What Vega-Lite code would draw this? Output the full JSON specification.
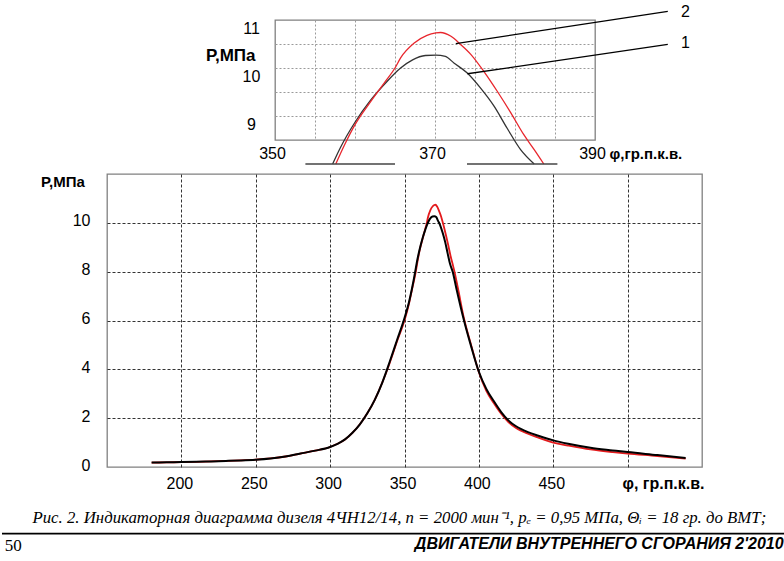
{
  "$schema": "https://vega.github.io/schema/vega-lite/v6.json",
  "background": "white",
  "padding": {"left": 0, "top": 3, "right": 0, "bottom": 0},
  "datasets": {
    "curves": [
      {"phi": 180, "p": 0.18, "curve": "1"}, {"phi": 190, "p": 0.19, "curve": "1"}, {"phi": 200, "p": 0.2, "curve": "1"},
      {"phi": 210, "p": 0.21, "curve": "1"}, {"phi": 220, "p": 0.23, "curve": "1"}, {"phi": 230, "p": 0.25, "curve": "1"},
      {"phi": 240, "p": 0.27, "curve": "1"}, {"phi": 250, "p": 0.3, "curve": "1"}, {"phi": 260, "p": 0.35, "curve": "1"},
      {"phi": 270, "p": 0.43, "curve": "1"}, {"phi": 280, "p": 0.55, "curve": "1"}, {"phi": 290, "p": 0.67, "curve": "1"},
      {"phi": 300, "p": 0.82, "curve": "1"}, {"phi": 305, "p": 0.95, "curve": "1"}, {"phi": 310, "p": 1.13, "curve": "1"},
      {"phi": 315, "p": 1.4, "curve": "1"}, {"phi": 320, "p": 1.75, "curve": "1"}, {"phi": 325, "p": 2.2, "curve": "1"},
      {"phi": 330, "p": 2.75, "curve": "1"}, {"phi": 335, "p": 3.45, "curve": "1"}, {"phi": 340, "p": 4.3, "curve": "1"},
      {"phi": 345, "p": 5.2, "curve": "1"}, {"phi": 350, "p": 6.1, "curve": "1"}, {"phi": 353, "p": 6.75, "curve": "1"},
      {"phi": 355, "p": 7.3, "curve": "1"}, {"phi": 357.2, "p": 8.0, "curve": "1"}, {"phi": 358.2, "p": 8.35, "curve": "1"},
      {"phi": 360, "p": 8.87, "curve": "1"}, {"phi": 362, "p": 9.34, "curve": "1"}, {"phi": 364, "p": 9.72, "curve": "1"},
      {"phi": 365.7, "p": 10.0, "curve": "1"}, {"phi": 367.2, "p": 10.17, "curve": "1"}, {"phi": 368.8, "p": 10.26, "curve": "1"},
      {"phi": 370.1, "p": 10.27, "curve": "1"}, {"phi": 371.3, "p": 10.24, "curve": "1"}, {"phi": 372.4, "p": 10.1, "curve": "1"},
      {"phi": 374, "p": 9.9, "curve": "1"}, {"phi": 375.7, "p": 9.58, "curve": "1"}, {"phi": 377.4, "p": 9.2, "curve": "1"},
      {"phi": 379, "p": 8.75, "curve": "1"}, {"phi": 380.7, "p": 8.3, "curve": "1"}, {"phi": 382.4, "p": 8.0, "curve": "1"},
      {"phi": 385, "p": 7.28, "curve": "1"}, {"phi": 390, "p": 6.0, "curve": "1"}, {"phi": 395, "p": 4.9, "curve": "1"},
      {"phi": 400, "p": 3.9, "curve": "1"}, {"phi": 405, "p": 3.2, "curve": "1"}, {"phi": 410, "p": 2.7, "curve": "1"},
      {"phi": 415, "p": 2.25, "curve": "1"}, {"phi": 420, "p": 1.9, "curve": "1"}, {"phi": 425, "p": 1.67, "curve": "1"},
      {"phi": 433, "p": 1.43, "curve": "1"}, {"phi": 440, "p": 1.28, "curve": "1"}, {"phi": 450, "p": 1.09, "curve": "1"},
      {"phi": 460, "p": 0.95, "curve": "1"}, {"phi": 475, "p": 0.79, "curve": "1"}, {"phi": 490, "p": 0.68, "curve": "1"},
      {"phi": 500, "p": 0.61, "curve": "1"}, {"phi": 520, "p": 0.49, "curve": "1"}, {"phi": 539, "p": 0.37, "curve": "1"},

      {"phi": 180, "p": 0.18, "curve": "2"}, {"phi": 190, "p": 0.19, "curve": "2"}, {"phi": 200, "p": 0.2, "curve": "2"},
      {"phi": 210, "p": 0.21, "curve": "2"}, {"phi": 220, "p": 0.23, "curve": "2"}, {"phi": 230, "p": 0.25, "curve": "2"},
      {"phi": 240, "p": 0.27, "curve": "2"}, {"phi": 250, "p": 0.3, "curve": "2"}, {"phi": 260, "p": 0.35, "curve": "2"},
      {"phi": 270, "p": 0.43, "curve": "2"}, {"phi": 280, "p": 0.55, "curve": "2"}, {"phi": 290, "p": 0.67, "curve": "2"},
      {"phi": 300, "p": 0.82, "curve": "2"}, {"phi": 305, "p": 0.95, "curve": "2"}, {"phi": 310, "p": 1.13, "curve": "2"},
      {"phi": 315, "p": 1.4, "curve": "2"}, {"phi": 320, "p": 1.75, "curve": "2"}, {"phi": 325, "p": 2.2, "curve": "2"},
      {"phi": 330, "p": 2.75, "curve": "2"}, {"phi": 335, "p": 3.45, "curve": "2"}, {"phi": 340, "p": 4.25, "curve": "2"},
      {"phi": 345, "p": 5.15, "curve": "2"}, {"phi": 350, "p": 6.0, "curve": "2"}, {"phi": 353, "p": 6.68, "curve": "2"},
      {"phi": 355, "p": 7.25, "curve": "2"}, {"phi": 357.6, "p": 8.0, "curve": "2"}, {"phi": 358.7, "p": 8.4, "curve": "2"},
      {"phi": 360, "p": 8.82, "curve": "2"}, {"phi": 362, "p": 9.31, "curve": "2"}, {"phi": 363.8, "p": 9.72, "curve": "2"},
      {"phi": 365, "p": 10.0, "curve": "2"}, {"phi": 365.7, "p": 10.21, "curve": "2"}, {"phi": 367.4, "p": 10.52, "curve": "2"},
      {"phi": 369, "p": 10.68, "curve": "2"}, {"phi": 370.1, "p": 10.73, "curve": "2"}, {"phi": 370.7, "p": 10.74, "curve": "2"},
      {"phi": 372, "p": 10.66, "curve": "2"}, {"phi": 373.2, "p": 10.49, "curve": "2"}, {"phi": 374.5, "p": 10.28, "curve": "2"},
      {"phi": 376.1, "p": 9.93, "curve": "2"}, {"phi": 377.8, "p": 9.51, "curve": "2"}, {"phi": 379.5, "p": 9.06, "curve": "2"},
      {"phi": 381.1, "p": 8.61, "curve": "2"}, {"phi": 382.4, "p": 8.3, "curve": "2"}, {"phi": 383.6, "p": 8.0, "curve": "2"},
      {"phi": 386, "p": 7.3, "curve": "2"}, {"phi": 390, "p": 6.08, "curve": "2"}, {"phi": 395, "p": 4.95, "curve": "2"},
      {"phi": 400, "p": 3.88, "curve": "2"}, {"phi": 405, "p": 3.12, "curve": "2"}, {"phi": 410, "p": 2.62, "curve": "2"},
      {"phi": 415, "p": 2.18, "curve": "2"}, {"phi": 420, "p": 1.83, "curve": "2"}, {"phi": 425, "p": 1.6, "curve": "2"},
      {"phi": 433, "p": 1.36, "curve": "2"}, {"phi": 440, "p": 1.2, "curve": "2"}, {"phi": 450, "p": 1.0, "curve": "2"},
      {"phi": 460, "p": 0.88, "curve": "2"}, {"phi": 475, "p": 0.72, "curve": "2"}, {"phi": 490, "p": 0.61, "curve": "2"},
      {"phi": 500, "p": 0.55, "curve": "2"}, {"phi": 520, "p": 0.45, "curve": "2"}, {"phi": 539, "p": 0.34, "curve": "2"}
    ]
  },
  "vconcat": [
    {
      "hconcat": [
        {
          "width": 97,
          "height": 10,
          "data": {"values": []},
          "mark": "point",
          "view": {"stroke": null}
        },
        {
          "width": 320,
          "height": 120,
          "resolve": {"axis": {"x": "independent", "y": "independent"}},
          "layer": [
            {
              "data": {"name": "curves"},
              "transform": [{"filter": "datum.curve == '1' && datum.p >= 8"}],
              "mark": {"type": "line", "color": "#333333", "strokeWidth": 1.3, "interpolate": "monotone"},
              "encoding": {
                "x": {
                  "field": "phi",
                  "type": "quantitative",
                  "scale": {"domain": [350, 390], "nice": false, "zero": false},
                  "axis": {
                    "orient": "bottom",
                    "values": [355, 360, 365, 370, 375, 380, 385],
                    "grid": true,
                    "gridColor": "#9a9a9a",
                    "gridDash": [2, 2],
                    "labels": false,
                    "title": null
                  }
                },
                "y": {
                  "field": "p",
                  "type": "quantitative",
                  "scale": {"domain": [8.5, 11], "nice": false, "zero": false},
                  "axis": {
                    "orient": "left",
                    "values": [9, 9.5, 10, 10.5],
                    "grid": true,
                    "gridColor": "#9a9a9a",
                    "gridDash": [2, 2],
                    "labels": false,
                    "title": null
                  }
                }
              }
            },
            {
              "data": {"name": "curves"},
              "transform": [{"filter": "datum.curve == '2' && datum.p >= 8"}],
              "mark": {"type": "line", "color": "#e8262d", "strokeWidth": 1.3, "interpolate": "monotone"},
              "encoding": {
                "x": {
                  "field": "phi",
                  "type": "quantitative",
                  "axis": {
                    "orient": "bottom",
                    "values": [350, 370, 390],
                    "grid": false,
                    "labelPadding": 13,
                    "labelBaseline": "middle",
                    "labelOffset": -3,
                    "title": "φ,гр.п.к.в.",
                    "titleX": 334,
                    "titleY": 13,
                    "titleAlign": "left",
                    "titleBaseline": "middle",
                    "titleFontSize": 15
                  }
                },
                "y": {
                  "field": "p",
                  "type": "quantitative",
                  "axis": {
                    "orient": "left",
                    "values": [9, 10, 11],
                    "grid": false,
                    "labelAlign": "center",
                    "labelPadding": 24,
                    "labelOffset": 8,
                    "title": "Р,МПа",
                    "titleAngle": 0,
                    "titleX": -20,
                    "titleY": 35.5,
                    "titleAlign": "right",
                    "titleBaseline": "middle",
                    "titleFontSize": 17
                  }
                }
              }
            },
            {
              "data": {"values": [{"k": 1}]},
              "mark": {"type": "rule", "color": "#444444", "strokeWidth": 1.3},
              "encoding": {
                "x": {"datum": 353.8, "type": "quantitative", "axis": null},
                "x2": {"datum": 365},
                "y": {"datum": 8, "type": "quantitative", "axis": null}
              }
            },
            {
              "data": {"values": [{"k": 1}]},
              "mark": {"type": "rule", "color": "#444444", "strokeWidth": 1.3},
              "encoding": {
                "x": {"datum": 374, "type": "quantitative", "axis": null},
                "x2": {"datum": 385.3},
                "y": {"datum": 8, "type": "quantitative", "axis": null}
              }
            },
            {
              "data": {"values": [{"k": 1}]},
              "mark": {"type": "rule", "color": "#000000", "strokeWidth": 1.3},
              "encoding": {
                "x": {"datum": 372.6, "type": "quantitative", "axis": null},
                "x2": {"datum": 399.1},
                "y": {"datum": 10.51, "type": "quantitative", "axis": null},
                "y2": {"datum": 11.18}
              }
            },
            {
              "data": {"values": [{"k": 1}]},
              "mark": {"type": "rule", "color": "#000000", "strokeWidth": 1.3},
              "encoding": {
                "x": {"datum": 374.05, "type": "quantitative", "axis": null},
                "x2": {"datum": 399.1},
                "y": {"datum": 9.88, "type": "quantitative", "axis": null},
                "y2": {"datum": 10.49}
              }
            },
            {
              "data": {"values": [{"k": 1}]},
              "mark": {"type": "text", "text": "2", "fontSize": 16, "align": "center", "baseline": "middle", "color": "#000"},
              "encoding": {
                "x": {"datum": 401.3, "type": "quantitative", "axis": null},
                "y": {"datum": 11.165, "type": "quantitative", "axis": null}
              }
            },
            {
              "data": {"values": [{"k": 1}]},
              "mark": {"type": "text", "text": "1", "fontSize": 16, "align": "center", "baseline": "middle", "color": "#000"},
              "encoding": {
                "x": {"datum": 401.3, "type": "quantitative", "axis": null},
                "y": {"datum": 10.52, "type": "quantitative", "axis": null}
              }
            }
          ]
        }
      ],
      "spacing": 0,
      "align": "each"
    },
    {
      "width": 595,
      "height": 293,
      "layer": [
        {
          "data": {"name": "curves"},
          "transform": [{"filter": "datum.curve == '2'"}],
          "mark": {"type": "line", "color": "#e31a1c", "strokeWidth": 1.8, "interpolate": "monotone"},
          "encoding": {
            "x": {
              "field": "phi",
              "type": "quantitative",
              "scale": {"domain": [150, 550], "nice": false, "zero": false},
              "axis": {
                "values": [200, 250, 300, 350, 400, 450, 500],
                "grid": true,
                "gridColor": "#333333",
                "gridDash": [3, 2],
                "labelExpr": "datum.value == 500 ? '' : datum.label",
                "labelPadding": 16,
                "labelBaseline": "middle",
                "labelOffset": -2,
                "title": "φ, гр.п.к.в.",
                "titleX": 597,
                "titleY": 16,
                "titleAlign": "right",
                "titleBaseline": "middle",
                "titleFontSize": 16
              }
            },
            "y": {
              "field": "p",
              "type": "quantitative",
              "scale": {"domain": [0, 12], "nice": false},
              "axis": {
                "values": [0, 2, 4, 6, 8, 10],
                "grid": true,
                "gridColor": "#333333",
                "gridDash": [3, 2],
                "gridOpacity": {"condition": {"test": "datum.value == 0", "value": 0}, "value": 1},
                "labelPadding": 17,
                "labelOffset": -2,
                "title": "Р,МПа",
                "titleAngle": 0,
                "titleX": -22.7,
                "titleY": 7.4,
                "titleAlign": "right",
                "titleBaseline": "middle",
                "titleFontSize": 15
              }
            }
          }
        },
        {
          "data": {"name": "curves"},
          "transform": [{"filter": "datum.curve == '1'"}],
          "mark": {"type": "line", "color": "#000000", "strokeWidth": 2, "interpolate": "monotone"},
          "encoding": {
            "x": {"field": "phi", "type": "quantitative"},
            "y": {"field": "p", "type": "quantitative"}
          }
        },
        {
          "data": {"values": [{"k": 1}]},
          "mark": {"type": "text", "text": "Рис. 2. Индикаторная диаграмма дизеля 4ЧН12/14, n = 2000 мин⁻¹, pₑ = 0,95 МПа, Θᵢ = 18 гр. до ВМТ;", "font": "Liberation Serif", "fontStyle": "italic", "fontSize": 16.8, "align": "center", "baseline": "middle", "color": "#000"},
          "encoding": {
            "x": {"datum": 346.6, "type": "quantitative"},
            "y": {"datum": -2.07, "type": "quantitative"}
          }
        },
        {
          "data": {"values": [{"k": 1}]},
          "mark": {"type": "rule", "color": "#000000", "strokeWidth": 1.6},
          "encoding": {
            "x": {"datum": 79.41, "type": "quantitative"},
            "x2": {"datum": 606.47},
            "y": {"datum": -2.73, "type": "quantitative"}
          }
        },
        {
          "data": {"values": [{"k": 1}]},
          "mark": {"type": "text", "text": "50", "font": "Liberation Serif", "fontSize": 17, "align": "left", "baseline": "middle", "color": "#000"},
          "encoding": {
            "x": {"datum": 81.2, "type": "quantitative"},
            "y": {"datum": -3.23, "type": "quantitative"}
          }
        },
        {
          "data": {"values": [{"k": 1}]},
          "mark": {"type": "text", "text": "ДВИГАТЕЛИ ВНУТРЕННЕГО СГОРАНИЯ 2'2010", "fontSize": 16, "fontWeight": "bold", "fontStyle": "italic", "align": "right", "baseline": "middle", "color": "#000"},
          "encoding": {
            "x": {"datum": 604.9, "type": "quantitative"},
            "y": {"datum": -3.14, "type": "quantitative"}
          }
        }
      ]
    }
  ],
  "spacing": 5,
  "align": "each",
  "config": {
    "font": "Liberation Sans",
    "view": {"stroke": "#808080", "strokeWidth": 1.3},
    "axis": {
      "labelFontSize": 16,
      "labelColor": "#000000",
      "titleColor": "#000000",
      "titleFontWeight": "bold",
      "ticks": false,
      "domain": false,
      "labelOverlap": false,
      "labelFlush": false
    }
  }
}
